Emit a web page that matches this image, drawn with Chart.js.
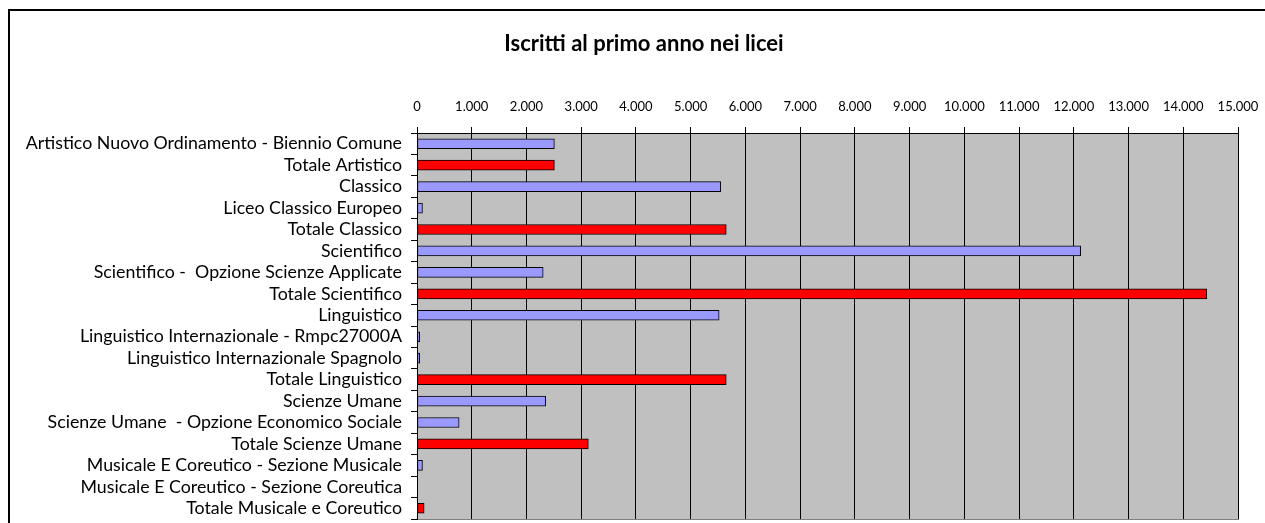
<!DOCTYPE html>
<html>
<head>
<meta charset="utf-8">
<script src="https://cdn.jsdelivr.net/npm/chart.js@4"></script>
<style>
  html, body { margin: 0; padding: 0; background: #fff; overflow: hidden; }
  #wrap { position: relative; width: 1265px; height: 523px; }
</style>
</head>
<body>
<div id="wrap"><canvas id="licei" width="1265" height="523"></canvas></div>
<script>
const categories = [
  'Artistico Nuovo Ordinamento - Biennio Comune',
  'Totale Artistico',
  'Classico',
  'Liceo Classico Europeo',
  'Totale Classico',
  'Scientifico',
  'Scientifico -  Opzione Scienze Applicate',
  'Totale Scientifico',
  'Linguistico',
  'Linguistico Internazionale - Rmpc27000A',
  'Linguistico Internazionale Spagnolo',
  'Totale Linguistico',
  'Scienze Umane',
  'Scienze Umane  - Opzione Economico Sociale',
  'Totale Scienze Umane',
  'Musicale E Coreutico - Sezione Musicale',
  'Musicale E Coreutico - Sezione Coreutica',
  'Totale Musicale e Coreutico'
];
const iscritti = [2510, 2510, 5550, 100, 5650, 12125, 2305, 14430, 5520, 50, 50, 5650, 2350, 770, 3130, 100, 0, 130];
const xMin = 0, xMax = 15000, xStep = 1000;

const FONT = 'Lato';
const TITLE_SIZE = 22, TITLE_PAD_TOP = 31, TITLE_PAD_BOTTOM = 10;
const PLOT_TOP = 133, PLOT_LEFT = 417;

// migliaia col punto
const fmt = v => String(v).replace(/\B(?=(\d{3})+(?!\d))/g, '.');

const frame = {
  id: 'frame',
  afterLayout(chart) {
    // titolo centrato sul grafico intero (che continua oltre il bordo destro)
    if (chart.titleBlock) { chart.titleBlock.left = 0; chart.titleBlock.right = 1288; }
  },
  beforeDraw(chart) {
    const { ctx, chartArea: a } = chart;
    ctx.save();
    ctx.fillStyle = '#fff';
    ctx.fillRect(0, 0, chart.width, chart.height);
    ctx.strokeStyle = '#000';
    ctx.lineWidth = 2;
    ctx.beginPath();
    ctx.moveTo(9, chart.height + 5);
    ctx.lineTo(9, 10);
    ctx.lineTo(chart.width + 5, 10);
    ctx.stroke();
    ctx.fillStyle = '#C0C0C0';
    ctx.fillRect(a.left, a.top, a.right - a.left, a.bottom - a.top);
    ctx.strokeStyle = '#808080';
    ctx.lineWidth = 1;
    ctx.strokeRect(a.left + 0.5, a.top + 0.5, a.right - a.left, a.bottom - a.top);
    ctx.restore();
  }
};

const noPad = s => { s.paddingLeft = s.paddingRight = s.paddingTop = s.paddingBottom = 0; };

new Chart(document.getElementById('licei'), {
  type: 'bar',
  data: {
    labels: categories,
    datasets: [{
      data: iscritti,
      backgroundColor: categories.map(c => c.startsWith('Totale') ? '#FF0000' : '#9999FF'),
      borderColor: '#000',
      borderWidth: 1,
      borderSkipped: false,
      barThickness: 10
    }]
  },
  options: {
    indexAxis: 'y',
    responsive: false,
    animation: false,
    layout: { padding: { left: 0, right: 27, top: 0, bottom: 4 } },
    plugins: {
      legend: { display: false },
      tooltip: { enabled: false },
      title: {
        display: true,
        text: 'Iscritti al primo anno nei licei',
        color: '#000',
        font: { family: FONT, size: TITLE_SIZE, weight: 'bold', lineHeight: 1.2 },
        padding: { top: TITLE_PAD_TOP, bottom: TITLE_PAD_BOTTOM }
      }
    },
    scales: {
      x: {
        position: 'top',
        min: xMin,
        max: xMax,
        afterFit: s => {
          s.height = PLOT_TOP - (TITLE_PAD_TOP + TITLE_SIZE * 1.2 + TITLE_PAD_BOTTOM);
          noPad(s);
        },
        ticks: {
          stepSize: xStep,
          color: '#000',
          padding: 12,
          maxRotation: 0,
          autoSkip: false,
          font: { family: FONT, size: 13 },
          callback: v => fmt(v)
        },
        grid: { color: '#000', lineWidth: 1, tickLength: 6 },
        border: { color: '#000', width: 1 }
      },
      y: {
        afterFit: s => { s.width = PLOT_LEFT; noPad(s); },
        ticks: {
          color: '#000',
          padding: 9,
          autoSkip: false,
          font: { family: FONT, size: 17.8 }
        },
        grid: { drawOnChartArea: false, color: '#000', tickLength: 6, offset: true },
        border: { color: '#000', width: 1 }
      }
    }
  },
  plugins: [frame]
});
</script>
</body>
</html>
